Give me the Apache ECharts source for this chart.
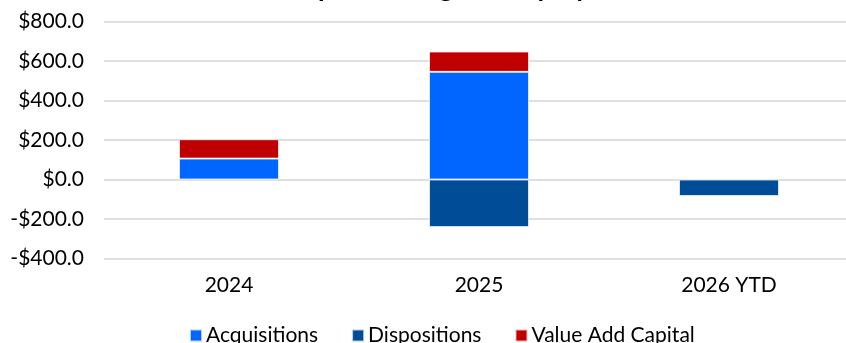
<!DOCTYPE html>
<html>
<head>
<meta charset="utf-8">
<script src="https://cdn.jsdelivr.net/npm/echarts@6/dist/echarts.min.js"></script>
<style>
  html, body { margin: 0; padding: 0; background: #ffffff; }
  #chart { width: 846px; height: 343px; }
</style>
</head>
<body>
<div id="chart"></div>
<script>
// Capital activity by year ($ millions)
const categories = ['2024', '2025', '2026 YTD'];
const acquisitions = [106, 545, null];
const dispositions = [null, -241, -84];
const valueAddCapital = [98, 103, null];

// Value axis ticks
const yTicks = [-400, -200, 0, 200, 400, 600, 800];
const yTickLabels = ['-$400.0', '-$200.0', '$0.0', '$200.0', '$400.0', '$600.0', '$800.0'];

const FONT = 'Lato, "Noto Sans", sans-serif';

const chart = echarts.init(document.getElementById('chart'), null, { renderer: 'canvas' });

function barSeries(name, data, color) {
  return {
    name: name,
    type: 'bar',
    stack: 'total',
    barWidth: '40%',
    data: data,
    itemStyle: { color: color, borderColor: 'rgba(255,255,255,0.7)', borderWidth: 1 },
    emphasis: { disabled: true }
  };
}

chart.setOption({
  animation: false,
  title: {
    text: 'Annual Capital Change in Deployment',
    left: 'center',
    top: -30,
    textStyle: { fontFamily: FONT, fontWeight: 'bold', fontSize: 27, color: '#000000' }
  },
  legend: {
    top: 320,
    left: 184,
    itemWidth: 12,
    itemHeight: 12,
    itemGap: 33,
    icon: 'rect',
    textStyle: { fontFamily: FONT, fontSize: 21, color: '#000000', padding: [0, 0, 0, -1] },
    data: ['Acquisitions', 'Dispositions', 'Value Add Capital']
  },
  grid: { left: 104, top: 21.5, right: -8, height: 237, containLabel: false, outerBoundsMode: 'none' },
  xAxis: {
    type: 'category',
    data: categories,
    axisLine: { show: false, onZero: false },
    axisTick: { show: false },
    axisLabel: { fontFamily: FONT, fontSize: 21, color: '#000000', margin: 16 }
  },
  yAxis: {
    type: 'value',
    min: yTicks[0],
    max: yTicks[yTicks.length - 1],
    interval: 200,
    axisLine: { show: false },
    axisTick: { show: false },
    splitLine: { lineStyle: { color: '#e0e0e0', width: 2 } },
    axisLabel: {
      fontFamily: FONT, fontSize: 21, color: '#000000', margin: 20,
      formatter: function (v) {
        const i = yTicks.indexOf(v);
        return i >= 0 ? yTickLabels[i] : '';
      }
    }
  },
  series: [
    barSeries('Acquisitions', acquisitions, '#0066ff'),
    barSeries('Dispositions', dispositions, '#004c97'),
    barSeries('Value Add Capital', valueAddCapital, '#c00000')
  ]
});
</script>
</body>
</html>
